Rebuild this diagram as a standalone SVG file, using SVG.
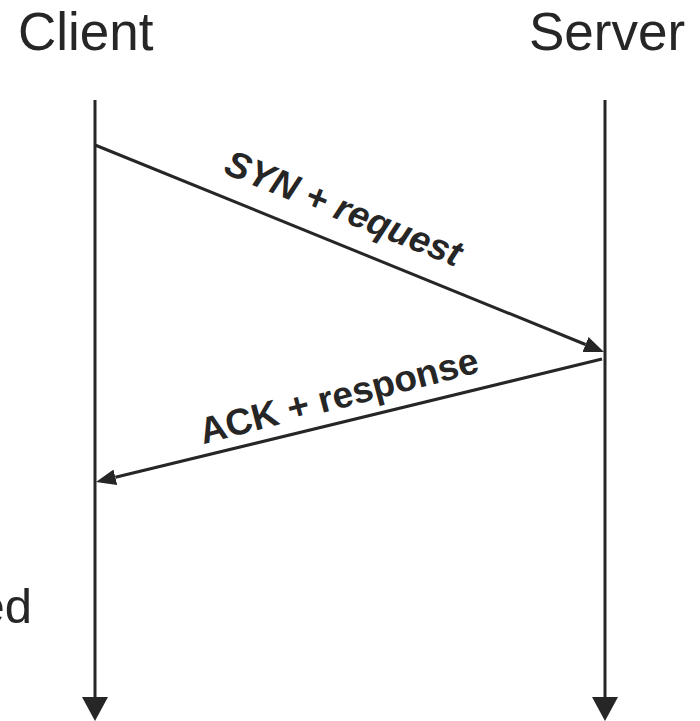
<svg xmlns="http://www.w3.org/2000/svg" width="700" height="721" viewBox="0 0 700 721">
  <style>
    .title { font-family: "Liberation Sans", Arial, sans-serif; font-size: 53px; fill: #262626; }
    .msg { font-family: "Liberation Sans", Arial, sans-serif; font-size: 37px; font-weight: bold; fill: #262626; }
    .life { stroke: #262626; stroke-width: 3; fill: none; }
    .arrow { stroke: #262626; stroke-width: 3; fill: none; }
  </style>
  <defs>
    <marker id="lifeHead" markerUnits="userSpaceOnUse" markerWidth="24" markerHeight="26" viewBox="0 0 24 26" refX="0" refY="13" orient="auto">
      <path d="M0,0 L24,13 L0,26 Z" fill="#262626"/>
    </marker>
    <marker id="msgHead" markerUnits="userSpaceOnUse" markerWidth="20" markerHeight="16" viewBox="0 0 20 16" refX="0" refY="8" orient="auto">
      <path d="M0,0 L20,8 L0,16 Z" fill="#262626"/>
    </marker>
  </defs>

  <rect width="700" height="721" fill="#ffffff"/>

  <!-- participants -->
  <g id="client">
    <text class="title" x="18" y="50">Client</text>
    <line class="life" x1="95" y1="100" x2="95" y2="697" marker-end="url(#lifeHead)"/>
  </g>
  <g id="server">
    <text class="title" x="529" y="50">Server</text>
    <line class="life" x1="605" y1="100" x2="605" y2="697" marker-end="url(#lifeHead)"/>
  </g>

  <!-- side note, running off the left edge -->
  <g id="note">
    <text class="title" x="32" y="623" text-anchor="end" style="font-size:49px">ed</text>
  </g>

  <!-- messages -->
  <g id="connectors">
    <line class="arrow" x1="95" y1="145" x2="585.5" y2="344.5" marker-end="url(#msgHead)"/>
    <line class="arrow" x1="602" y1="359" x2="115.4" y2="477.3" marker-end="url(#msgHead)"/>
    <text class="msg" font-style="italic" text-anchor="middle" transform="translate(339,220) rotate(22)">SYN + request</text>
    <text class="msg" text-anchor="middle" transform="translate(342,408) rotate(-14.6)">ACK + response</text>
  </g>
</svg>
